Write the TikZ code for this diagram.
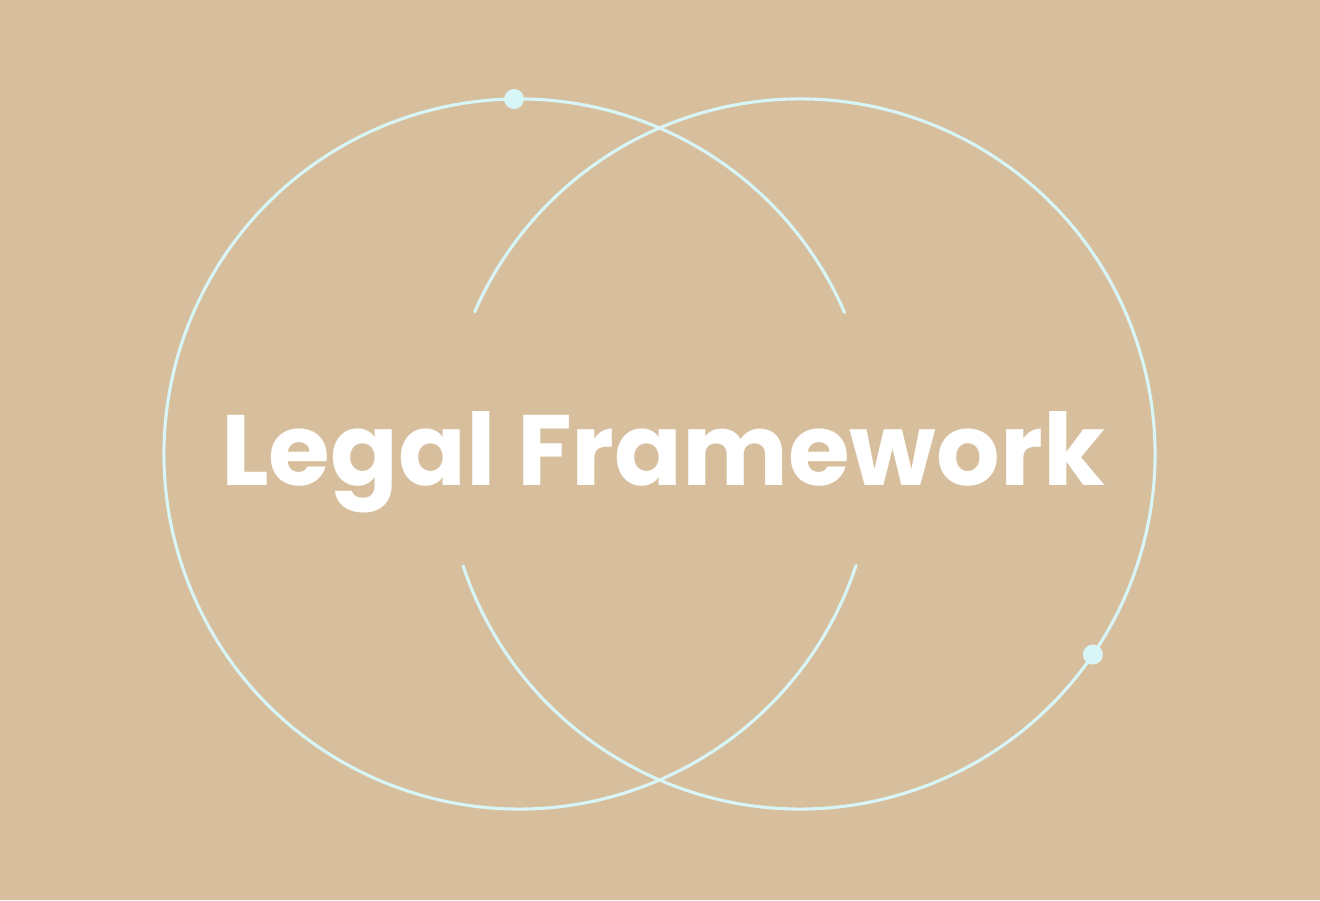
\documentclass[tikz,border=0pt]{standalone}
\usepackage{fontspec}
\setmainfont{Poppins}[BoldFont={* Bold}]
\usetikzlibrary{calc}
\definecolor{sand}{HTML}{D7BF9E}
\definecolor{ice}{HTML}{D8F6F7}

\begin{document}
\begin{tikzpicture}[x=1pt,y=1pt,
    ring/.style={draw=ice,line width=3.1pt,line cap=round},
    knot/.style={circle,fill=ice,minimum size=20pt,inner sep=0pt}]
    \fill[sand] (0,0) rectangle (1320,900);
    \useasboundingbox (0,0) rectangle (1320,900);

    \coordinate (lc) at (519,446);
    \coordinate (rc) at (800,446);

    % left ring, open on the right
    \draw[ring] ($(lc)+(23.5:355pt)$) arc[start angle=23.5,end angle=341.7,radius=355pt];
    % right ring, open on the left
    \draw[ring] ($(rc)+(198.4:355pt)$) arc[start angle=198.4,end angle=516.4,radius=355pt];

    \node[knot] (top) at ($(lc)+(90.8:355pt)$) {};
    \node[knot] (side) at ($(rc)+(-34.4:355pt)$) {};

    \node[anchor=base,text=white,font=\fontsize{100}{100}\selectfont\bfseries] (title) at (663,414) {Legal Framework};
\end{tikzpicture}
\end{document}
